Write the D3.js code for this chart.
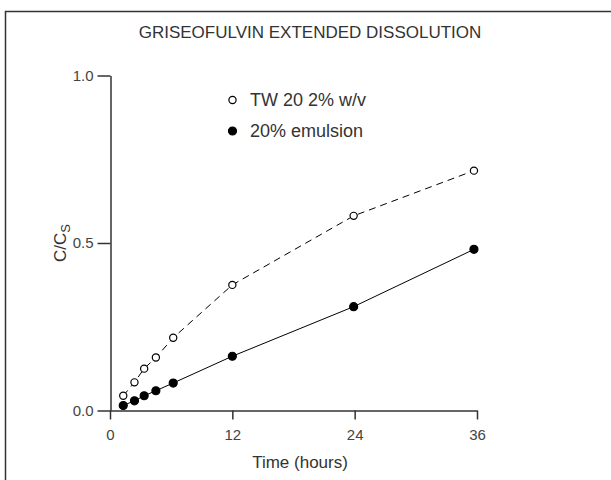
<!DOCTYPE html>
<html>
<head>
<meta charset="utf-8">
<script src="https://cdn.jsdelivr.net/npm/d3@7"></script>
<style>
  body { margin: 0; background: #fff; }
  text { font-family: "Liberation Sans", Arial, sans-serif; fill: #333; }
</style>
</head>
<body>
<script>

// Sampling times (hours).
var hours = [1.3, 2.4, 3.35, 4.5, 6.2, 12, 23.9, 35.7];

// C/Cs for each formulation.
var tween = [0.044, 0.084, 0.125, 0.158, 0.217, 0.375, 0.581, 0.716];
var emulsion = [0.015, 0.029, 0.044, 0.059, 0.082, 0.162, 0.310, 0.481];

var xTicks = [0, 12, 24, 36];
var yTicks = [0, 0.5, 1.0];

var W = 611, H = 480;

var svg = d3.select('body').append('svg')
  .attr('width', W).attr('height', H);

// Frame (only the left and top edges fall inside the picture).
svg.append('rect')
  .attr('x', 5.5).attr('y', 11.5)
  .attr('width', 620).attr('height', 480)
  .attr('fill', 'none').attr('stroke', '#333').attr('stroke-width', 1.5);

var x = d3.scaleLinear().domain([0, 36]).range([110, 477]);
var y = d3.scaleLinear().domain([0, 1]).range([410.5, 75.5]);

// Axes.
var gx = svg.append('g').attr('transform', 'translate(0,410.5)')
  .call(d3.axisBottom(x).tickValues(xTicks).tickSize(9).tickSizeOuter(0)
    .tickPadding(10).tickFormat(d3.format('d')));

var gy = svg.append('g').attr('transform', 'translate(110.5,0)')
  .call(d3.axisLeft(y).tickValues(yTicks).tickSize(13).tickSizeOuter(0)
    .tickPadding(4).tickFormat(d3.format('.1f')));

[gx, gy].forEach(function(g) {
  g.selectAll('path, line').attr('stroke', '#333').attr('stroke-width', 1.5);
  g.selectAll('text').attr('font-size', 15)
    .attr('font-family', '"Liberation Sans", Arial, sans-serif')
    .style('fill', '#444');
});

// Axis titles.
svg.append('text')
  .attr('x', 300).attr('y', 468)
  .attr('text-anchor', 'middle').attr('font-size', 17)
  .text('Time (hours)');

var yl = svg.append('text')
  .attr('transform', 'translate(66,243) rotate(-90)')
  .attr('text-anchor', 'middle').attr('font-size', 17);
yl.append('tspan').text('C/C');
yl.append('tspan').attr('font-size', 13).attr('dy', 4).text('S');

// Title.
svg.append('text')
  .attr('x', 310).attr('y', 38)
  .attr('text-anchor', 'middle').attr('font-size', 17)
  .text('GRISEOFULVIN EXTENDED DISSOLUTION');

// Series.
var series = [
  { values: tween, dash: '7,5', fill: '#fff' },
  { values: emulsion, dash: null, fill: '#000' }
];

var line = d3.line()
  .x(function(d) { return x(d[0]); })
  .y(function(d) { return y(d[1]); });

series.forEach(function(s) {
  var pts = d3.zip(hours, s.values);

  svg.append('path')
    .datum(pts)
    .attr('d', line)
    .attr('fill', 'none')
    .attr('stroke', '#000')
    .attr('stroke-width', 1)
    .attr('stroke-dasharray', s.dash);

  svg.selectAll(null)
    .data(pts)
    .enter().append('circle')
    .attr('cx', function(d) { return x(d[0]); })
    .attr('cy', function(d) { return y(d[1]); })
    .attr('r', s.fill === '#000' ? 4 : 3.6)
    .attr('fill', s.fill)
    .attr('stroke', '#000')
    .attr('stroke-width', 1.2);
});

// Legend.
var legend = [
  { label: 'TW 20 2% w/v', fill: '#fff', y: 100 },
  { label: '20% emulsion', fill: '#000', y: 131 }
];

legend.forEach(function(l) {
  svg.append('circle')
    .attr('cx', 232.5).attr('cy', l.y)
    .attr('r', l.fill === '#000' ? 4 : 3.6)
    .attr('fill', l.fill).attr('stroke', '#000').attr('stroke-width', 1.2);
  svg.append('text')
    .attr('x', 250).attr('y', l.y + 6)
    .attr('font-size', 18)
    .text(l.label);
});

</script>
</body>
</html>
